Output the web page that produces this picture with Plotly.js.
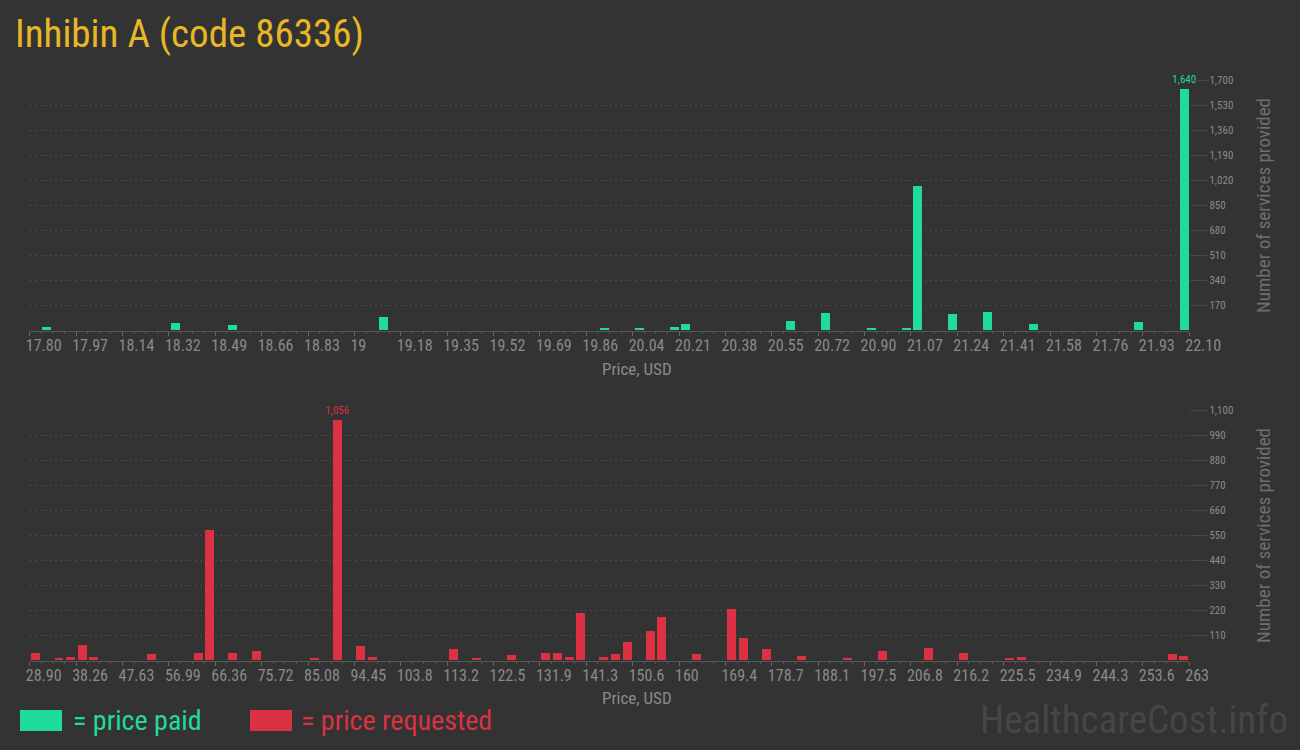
<!DOCTYPE html>
<html>
<head>
<meta charset="utf-8">
<script src="https://cdn.plot.ly/plotly-3.0.1.min.js"></script>
<style>
  html, body { margin: 0; padding: 0; background: #333333; }
  #chart { width: 1300px; height: 750px; }
</style>
</head>
<body>
<div id="chart"></div>
<script>
// ---- data ----
const paidPrice = [17.86, 18.34, 18.55, 19.11, 19.93, 20.06, 20.19, 20.23, 20.62, 20.75, 20.92, 21.05, 21.09, 21.22, 21.35, 21.52, 21.91, 22.08];
const paidCount = [20, 50, 36, 90, 15, 15, 24, 45, 65, 118, 15, 15, 980, 111, 124, 43, 56, 1640];

const reqPrice = [30.07, 34.75, 37.09, 39.43, 41.78, 53.48, 62.84, 65.19, 69.87, 74.55, 86.25, 90.94, 95.62, 97.96, 114.35, 119.03, 126.05, 133.07, 135.42, 137.76, 140.10, 144.78, 147.12, 149.46, 154.14, 156.48, 163.51, 170.53, 172.87, 177.55, 184.58, 193.94, 200.96, 210.33, 217.35, 226.71, 229.06, 259.49, 261.83];
const reqCount = [32, 10, 15, 67, 15, 28, 32, 573, 32, 41, 10, 1056, 63, 15, 50, 10, 23, 32, 32, 15, 208, 15, 28, 81, 129, 191, 28, 226, 98, 50, 19, 10, 41, 54, 32, 10, 15, 28, 19];

const paidTickLabels = ['17.80','17.97','18.14','18.32','18.49','18.66','18.83','19','19.18','19.35','19.52','19.69','19.86','20.04','20.21','20.38','20.55','20.72','20.90','21.07','21.24','21.41','21.58','21.76','21.93','22.10'];
const reqTickLabels = ['28.90','38.26','47.63','56.99','66.36','75.72','85.08','94.45','103.8','113.2','122.5','131.9','141.3','150.6','160','169.4','178.7','188.1','197.5','206.8','216.2','225.5','234.9','244.3','253.6','263'];

const paidYTicks = [170, 340, 510, 680, 850, 1020, 1190, 1360, 1530, 1700];
const reqYTicks = [110, 220, 330, 440, 550, 660, 770, 880, 990, 1100];

const paidRange = [17.80, 22.10];
const reqRange = [28.90, 263];

// ---- styles ----
const GREEN = '#20dc9b';
const RED = '#dc3142';
const NARROW = "'Liberation Sans Narrow', 'Roboto Condensed', 'DejaVu Sans Condensed', sans-serif";
const BINS = 100;

function linspace(a, b, n) {
  const out = [];
  for (let i = 0; i < n; i++) out.push(a + (b - a) * i / (n - 1));
  return out;
}
function fmt(v) { return v.toLocaleString('en-US'); }
function maxText(arr) {
  const m = Math.max(...arr);
  return arr.map(v => v === m ? fmt(v) : '');
}

function xaxisCfg(range, labels, anchor) {
  return {
    range: range,
    domain: [0.0229, 0.9148],
    anchor: anchor,
    tickmode: 'array',
    tickvals: linspace(range[0], range[1], labels.length),
    ticktext: labels,
    ticks: 'outside',
    ticklen: 4,
    tickcolor: '#666',
    tickwidth: 1,
    ticklabelposition: 'outside right',
    ticklabelshift: -5,
    tickfont: { family: NARROW, size: 16, color: '#8a8a8a' },
    minor: {
      tickmode: 'array',
      tickvals: linspace(range[0], range[1], (labels.length - 1) * 4 + 1),
      ticks: 'outside', ticklen: 2, tickcolor: '#555', showgrid: false
    },
    showline: true,
    linecolor: '#555',
    linewidth: 1,
    showgrid: false,
    zeroline: false,
    fixedrange: true,
    automargin: false
  };
}
function yaxisCfg(range, ticks, domain, anchor) {
  return {
    range: range,
    domain: domain,
    anchor: anchor,
    side: 'right',
    tickmode: 'array',
    tickvals: ticks,
    ticktext: ticks.map(fmt),
    ticks: 'outside',
    ticklen: 17,
    tickcolor: '#484848',
    tickwidth: 1,
    tickfont: { family: NARROW, size: 11, color: '#8a8a8a' },
    showgrid: true,
    gridcolor: '#4a4a4a',
    griddash: '2px,3px',
    gridwidth: 1,
    zeroline: false,
    showline: false,
    fixedrange: true,
    automargin: false,
    title: { text: 'Number of services provided', font: { family: NARROW, size: 19, color: '#6f6f6f' }, standoff: 24 }
  };
}

const paidWidth = (paidRange[1] - paidRange[0]) / BINS * 0.77;
const reqWidth = (reqRange[1] - reqRange[0]) / BINS * 0.77;

const traces = [
  {
    type: 'bar', name: 'price paid', x: paidPrice, y: paidCount,
    xaxis: 'x', yaxis: 'y',
    width: paidPrice.map(() => paidWidth),
    marker: { color: GREEN },
    text: maxText(paidCount), textposition: 'outside', constraintext: 'none',
    textfont: { family: NARROW, size: 11, color: GREEN },
    cliponaxis: false, hoverinfo: 'x+y'
  },
  {
    type: 'bar', name: 'price requested', x: reqPrice, y: reqCount,
    xaxis: 'x2', yaxis: 'y2',
    width: reqPrice.map(() => reqWidth),
    marker: { color: RED },
    text: maxText(reqCount), textposition: 'outside', constraintext: 'none',
    textfont: { family: NARROW, size: 11, color: RED },
    cliponaxis: false, hoverinfo: 'x+y'
  }
];

const layout = {
  width: 1300, height: 750, autosize: false,
  paper_bgcolor: '#333333', plot_bgcolor: '#333333',
  margin: { l: 0, r: 0, t: 0, b: 0 },
  showlegend: false,
  bargap: 0,
  font: { family: NARROW, color: '#8a8a8a' },
  title: {
    text: 'Inhibin A (code 86336)',
    font: { family: NARROW, size: 39, color: '#e9b726' },
    x: 0.0115, xanchor: 'left', xref: 'paper',
    y: 0.955, yanchor: 'middle', yref: 'paper'
  },
  xaxis: xaxisCfg(paidRange, paidTickLabels, 'y'),
  yaxis: yaxisCfg([0, 1700], paidYTicks, [0.5593, 0.8929], 'x'),
  xaxis2: xaxisCfg(reqRange, reqTickLabels, 'y2'),
  yaxis2: yaxisCfg([0, 1100], reqYTicks, [0.1193, 0.4529], 'x2'),
  annotations: [
    { text: 'Price, USD', xref: 'paper', yref: 'paper', x: 0.49, y: 1 - 369 / 750, xanchor: 'center', yanchor: 'middle', showarrow: false, font: { family: NARROW, size: 17, color: '#8a8a8a' } },
    { text: 'Price, USD', xref: 'paper', yref: 'paper', x: 0.49, y: 1 - 698 / 750, xanchor: 'center', yanchor: 'middle', showarrow: false, font: { family: NARROW, size: 17, color: '#8a8a8a' } },
    { text: '= price paid', xref: 'paper', yref: 'paper', x: 71 / 1300, y: 1 - 720 / 750, xanchor: 'left', yanchor: 'middle', showarrow: false, font: { family: NARROW, size: 28, color: GREEN } },
    { text: '= price requested', xref: 'paper', yref: 'paper', x: 299 / 1300, y: 1 - 720 / 750, xanchor: 'left', yanchor: 'middle', showarrow: false, font: { family: NARROW, size: 28, color: RED } },
    { text: 'HealthcareCost.info', xref: 'paper', yref: 'paper', x: 1290 / 1300, y: 1 - 720 / 750, xanchor: 'right', yanchor: 'middle', showarrow: false, font: { family: NARROW, size: 39, color: '#464646' } }
  ],
  shapes: [
    { type: 'rect', xref: 'paper', yref: 'paper', x0: 20 / 1300, x1: 62 / 1300, y0: 1 - 731 / 750, y1: 1 - 710 / 750, fillcolor: GREEN, line: { width: 0 } },
    { type: 'rect', xref: 'paper', yref: 'paper', x0: 250 / 1300, x1: 292 / 1300, y0: 1 - 731 / 750, y1: 1 - 710 / 750, fillcolor: RED, line: { width: 0 } }
  ]
};

Plotly.newPlot('chart', traces, layout, { displayModeBar: false, staticPlot: false });
</script>
</body>
</html>
